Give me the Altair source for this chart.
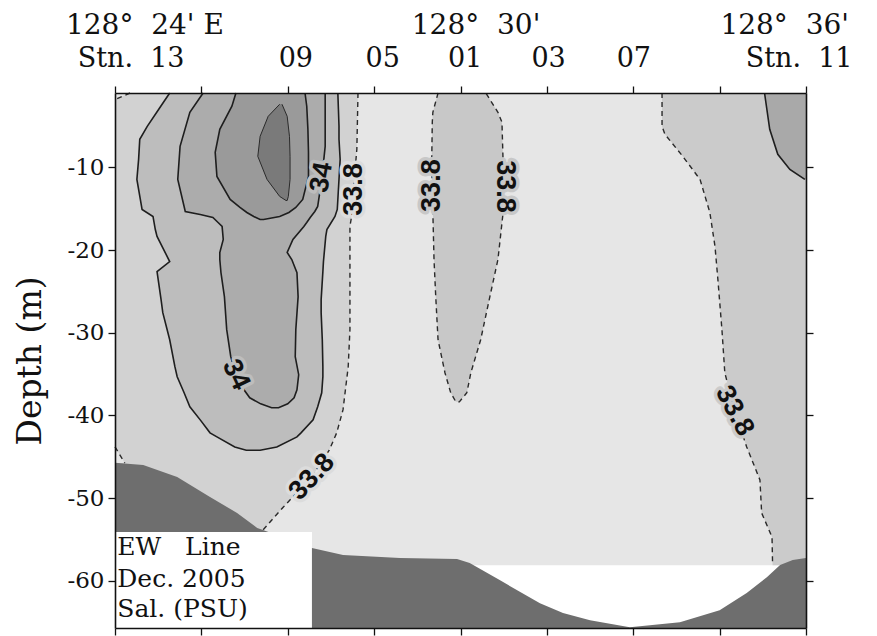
import altair as alt
import pandas as pd

# Section extent: longitude in minutes east of 128°, depth in metres
X_MIN, X_MAX = 24.0, 36.0
Y_MIN, Y_MAX = -65.7, -1.0
FIELD_BOTTOM = -58.1

lon_ticks = [24.0, 25.5, 27.0, 28.5, 30.0, 31.5, 33.0, 34.5, 36.0]
depth_ticks = [-10, -20, -30, -40, -50, -60]

NB = "\u00a0"
lon_labels = [f"128°{NB}{NB}24'{NB}E", f"128°{NB}{NB}30'", f"128°{NB}{NB}36'"]
lon_label_x = [24.52, 30.27, 35.63]
stn_labels = [f"Stn.{NB}{NB}13", "09", "05", "01", "03", "07", f"Stn.{NB}{NB}11"]
stn_x = [24.28, 27.14, 28.65, 30.08, 31.53, 33.01, 35.88]

# Salinity regions: depth samples with west / east boundary (minutes E)
# > 33.8, western water mass (bounded by the west edge)
a_depth = [-1.0, -7.8, -9.4, -16.3, -17.1, -29.6, -34.1, -39.3, -42.1, -44.2, -47.4, -51.1, -53.85, -54.2]
a_east = [28.22, 28.20, 28.18, 28.10, 28.08, 28.08, 28.05, 27.96, 27.85, 27.72, 27.42, 26.92, 26.57, 26.52]

# small < 33.8 pockets against the west edge
nw_depth = [-1.0, -1.8]
nw_east = [24.26, 24.0]
sw_depth = [-43.8, -45.75]
sw_east = [24.0, 24.17]

# outer solid contour
b_depth = [-1.0, -2.97, -5.03, -6.60, -9.03, -11.45, -13.87, -15.08, -15.93, -17.51, -18.35, -21.38,
           -22.60, -25.99, -27.57, -30.84, -34.10, -35.31, -37.25, -38.95, -40.53, -42.10, -42.59, -43.80, -44.2]
b_west = [24.95, 24.76, 24.56, 24.43, 24.41, 24.38, 24.44, 24.47, 24.66, 24.70, 24.73, 24.95,
          24.73, 24.80, 24.83, 24.95, 25.04, 25.08, 25.20, 25.30, 25.48, 25.65, 25.77, 26.08, 26.28]
b_east = [27.87, 27.88, 27.89, 27.89, 27.91, 27.89, 27.87, 27.86, 27.82, 27.68, 27.66, 27.62,
          27.61, 27.58, 27.58, 27.60, 27.61, 27.61, 27.59, 27.52, 27.44, 27.23, 27.16, 26.81, 26.52]

# 34 contour
c_depth = [-1.0, -3.33, -7.45, -11.45, -14.72, -15.33, -15.69, -16.05, -16.66, -17.14, -18.72, -20.29,
           -21.14, -22.72, -25.63, -29.62, -32.89, -35.07, -36.89, -37.86, -38.59, -39.07]
c_west = [25.53, 25.30, 25.13, 25.09, 25.20, 25.22, 25.48, 25.70, 25.79, 25.86, 25.88, 25.82,
          25.82, 25.84, 25.90, 25.94, 26.01, 26.10, 26.24, 26.34, 26.53, 26.72]
c_east = [27.65, 27.65, 27.65, 27.59, 27.52, 27.47, 27.43, 27.39, 27.33, 27.28, 27.09, 26.99,
          27.07, 27.16, 27.18, 27.14, 27.13, 27.19, 27.16, 27.11, 27.00, 26.84]

# inner core
d_depth = [-1.0, -2.60, -5.39, -8.18, -11.09, -13.87, -14.84, -15.45, -15.93, -16.30]
d_west = [26.10, 26.03, 25.82, 25.74, 25.77, 26.00, 26.17, 26.29, 26.41, 26.52]
d_east = [27.30, 27.33, 27.35, 27.36, 27.36, 27.26, 27.14, 27.02, 26.86, 26.58]

# saltiest cell
e_depth = [-2.36, -3.82, -6.24, -8.66, -11.45, -13.51, -14.0]
e_west = [26.86, 26.66, 26.52, 26.48, 26.64, 26.86, 26.97]
e_east = [26.90, 26.99, 27.03, 27.04, 27.04, 27.01, 26.99]

# > 33.8 tongue near Stn. 01
f_depth = [-1.0, -3.33, -4.54, -9.39, -15.45, -21.14, -25.63, -30.84, -34.83, -37.25, -38.35]
f_west = [29.61, 29.52, 29.51, 29.50, 29.52, 29.54, 29.57, 29.61, 29.73, 29.83, 29.92]
f_east = [30.44, 30.65, 30.72, 30.74, 30.74, 30.65, 30.51, 30.35, 30.18, 30.11, 29.98]

# > 33.8 eastern water mass (bounded by the east edge)
g_depth = [-1.0, -5.03, -6.00, -8.66, -11.45, -15.45, -19.57, -23.57, -29.62, -34.83, -39.44,
           -43.80, -47.79, -51.79, -54.70, -58.1]
g_west = [33.50, 33.50, 33.55, 33.86, 34.16, 34.33, 34.42, 34.47, 34.54, 34.59, 34.76,
          34.97, 35.20, 35.23, 35.41, 35.42]

# solid contour in the north-east corner
h_depth = [-1.0, -5.39, -8.42, -10.24, -11.45]
h_west = [35.28, 35.37, 35.51, 35.72, 35.98]

# Sea bed
bed_x = [24.0, 24.49, 25.08, 25.65, 26.12, 26.47, 26.57, 27.42, 27.96, 28.95, 29.94, 30.16,
         30.68, 31.38, 31.78, 32.25, 32.94, 33.81, 34.50, 34.97, 35.32, 35.55, 35.77, 36.0]
bed_depth = [-45.73, -45.98, -47.43, -49.85, -51.79, -53.61, -53.85, -56.03, -56.88, -57.24, -57.37, -57.85,
             -59.91, -62.70, -63.90, -64.75, -65.60, -64.99, -63.54, -61.48, -59.55, -58.09, -57.49, -57.24]

# Contour labels
lab_text = ["33.8", "34", "34", "33.8", "33.8", "33.8", "33.8"]
lab_x = [28.15, 27.59, 26.10, 27.42, 29.50, 30.77, 34.76]
lab_y = [-12.66, -11.2, -35.07, -47.43, -12.2, -12.3, -39.44]
lab_angle = [270, 280, 65, 313, 270, 90, 62]

info_lines = [f"EW{NB}{NB}{NB}Line", "Dec. 2005", "Sal. (PSU)"]
info_y = [-56.88, -60.76, -64.4]
info_x = 24.04
BOX_EAST, BOX_TOP = 27.42, -54.09

# Grey shades
C_BASE = "#e6e6e6"
C_A = "#d2d2d2"
C_B = "#bdbdbd"
C_C = "#acacac"
C_D = "#9a9a9a"
C_E = "#7a7a7a"
C_F = "#c8c8c8"
C_G = "#cbcbcb"
C_H = "#a9a9a9"
C_BED = "#6e6e6e"
lab_halo = ["#dcdcdc", C_B, C_B, "#dcdcdc", C_F, C_F, C_G]

xs = alt.Scale(domain=[X_MIN, X_MAX], nice=False, zero=False)
ys = alt.Scale(domain=[Y_MIN, Y_MAX], nice=False, zero=False)

INK = "#111111"
tick_style = dict(tickSize=7, tickColor=INK, tickWidth=1.3, domain=True, domainColor=INK,
                  domainWidth=1.6, grid=False, zindex=1)
ax_bottom = alt.Axis(orient="bottom", values=lon_ticks, labels=False, title=None, **tick_style)
ax_top = alt.Axis(orient="top", values=lon_ticks, labels=False, title=None, **tick_style)
ax_left = alt.Axis(orient="left", values=depth_ticks, labelExpr="'-' + abs(datum.value)",
                   labelFont="DejaVu Serif", labelFontSize=23, labelColor=INK, labelPadding=4,
                   title="Depth (m)", titleFont="DejaVu Serif", titleFontSize=33,
                   titleFontWeight="normal", titleColor=INK, titleX=-75, titleY=267.5,
                   titleAngle=270, titleAlign="center", titleBaseline="alphabetic", **tick_style)
ax_right = alt.Axis(orient="right", values=depth_ticks, labels=False, title=None, **tick_style)


def band(depth, west, east, color):
    df = pd.DataFrame({"depth": depth, "west": west, "east": east})
    return alt.Chart(df).mark_area(orient="horizontal", color=color, interpolate="linear").encode(
        y=alt.Y("depth:Q", scale=ys, axis=None),
        x=alt.X("west:Q", scale=xs, axis=None, stack=None),
        x2="east:Q",
    )


def outline(depth, west, east):
    return list(zip(west, depth)) + list(zip(reversed(east), reversed(depth)))


def path_df(paths):
    rows = []
    for name, pts in paths.items():
        for k, (x, y) in enumerate(pts):
            rows.append({"line": name, "k": k, "x": x, "y": y})
    return pd.DataFrame(rows)


def lines(df, **mark):
    return alt.Chart(df).mark_line(**mark).encode(
        x=alt.X("x:Q", scale=xs, axis=None),
        y=alt.Y("y:Q", scale=ys, axis=None),
        detail="line:N",
        order="k:Q",
    )


frame = pd.DataFrame({"x0": [X_MIN], "x1": [X_MAX], "y0": [FIELD_BOTTOM], "y1": [Y_MAX]})
field = alt.Chart(frame).mark_rect(color=C_BASE).encode(
    x=alt.X("x0:Q", scale=xs, axis=ax_bottom), x2="x1:Q",
    y=alt.Y("y0:Q", scale=ys, axis=ax_left), y2="y1:Q",
)

box = pd.DataFrame({"x0": [X_MIN], "x1": [BOX_EAST], "y0": [Y_MIN], "y1": [BOX_TOP]})
axes_carrier = alt.Chart(box).mark_rect(color="white").encode(
    x=alt.X("x0:Q", scale=xs, axis=ax_top), x2="x1:Q",
    y=alt.Y("y0:Q", scale=ys, axis=ax_right), y2="y1:Q",
)

areas = [
    band(a_depth, [X_MIN] * len(a_depth), a_east, C_A),
    band(nw_depth, [X_MIN] * 2, nw_east, C_BASE),
    band(sw_depth, [X_MIN] * 2, sw_east, C_BASE),
    band(b_depth, b_west, b_east, C_B),
    band(c_depth, c_west, c_east, C_C),
    band(d_depth, d_west, d_east, C_D),
    band(e_depth, e_west, e_east, C_E),
    band(f_depth, f_west, f_east, C_F),
    band(g_depth, g_west, [X_MAX] * len(g_depth), C_G),
    band(h_depth, h_west, [X_MAX] * len(h_depth), C_H),
]

solid = path_df({
    "b": outline(b_depth, b_west, b_east),
    "c": outline(c_depth, c_west, c_east),
    "d": outline(d_depth, d_west, d_east),
    "h": list(zip(h_west, h_depth)),
})
core = path_df({"e": outline(e_depth, e_west, e_east)})
dashed = path_df({
    "a": list(zip(a_east, a_depth)),
    "nw": list(zip(nw_east, nw_depth)),
    "sw": list(zip(sw_east, sw_depth)),
    "f": outline(f_depth, f_west, f_east),
    "g": list(zip(g_west, g_depth)),
})

solid_lines = lines(solid, color="#1e1e1e", strokeWidth=1.6)
core_line = lines(core, color="#2a2a2a", strokeWidth=1.0)
dashed_lines = lines(dashed, color="#2a2a2a", strokeWidth=1.4, strokeDash=[5, 4])

bed = pd.DataFrame({"x": bed_x, "y": bed_depth, "floor": [Y_MIN] * len(bed_x)})
seabed = alt.Chart(bed).mark_area(color=C_BED).encode(
    x=alt.X("x:Q", scale=xs, axis=None),
    y=alt.Y("y:Q", scale=ys, axis=None, stack=None),
    y2="floor:Q",
)

# white info box over the sea bed, with its three lines of text
info_box = alt.Chart(box).mark_rect(color="white").encode(
    x=alt.X("x0:Q", scale=xs, axis=None), x2="x1:Q",
    y=alt.Y("y0:Q", scale=ys, axis=None), y2="y1:Q",
)
info = pd.DataFrame({"text": info_lines, "x": [info_x] * 3, "y": info_y})
info_text = alt.Chart(info).mark_text(
    align="left", baseline="alphabetic", font="DejaVu Serif", fontSize=25, color=INK
).encode(
    x=alt.X("x:Q", scale=xs, axis=None),
    y=alt.Y("y:Q", scale=ys, axis=None),
    text="text:N",
)

labels = pd.DataFrame({"text": lab_text, "x": lab_x, "y": lab_y, "angle": lab_angle, "halo": lab_halo})
lab_enc = dict(
    x=alt.X("x:Q", scale=xs, axis=None),
    y=alt.Y("y:Q", scale=ys, axis=None),
    text="text:N",
    angle=alt.Angle("angle:Q", scale=None),
)
label_font = dict(font="Liberation Sans", fontSize=27, fontWeight="bold", align="center", baseline="middle")
label_halo = alt.Chart(labels).mark_text(strokeWidth=7, strokeJoin="round", **label_font).encode(
    stroke=alt.Stroke("halo:N", scale=None),
    color=alt.Color("halo:N", scale=None),
    **lab_enc,
)
label_text = alt.Chart(labels).mark_text(color=INK, **label_font).encode(**lab_enc)

head1 = alt.Chart(pd.DataFrame({"text": lon_labels, "x": lon_label_x})).mark_text(
    font="DejaVu Serif", fontSize=28, baseline="alphabetic", align="center", color=INK
).encode(x=alt.X("x:Q", scale=xs, axis=None), y=alt.value(-59), text="text:N")
head2 = alt.Chart(pd.DataFrame({"text": stn_labels, "x": stn_x})).mark_text(
    font="DejaVu Serif", fontSize=27, baseline="alphabetic", align="center", color=INK
).encode(x=alt.X("x:Q", scale=xs, axis=None), y=alt.value(-26), text="text:N")

chart = alt.layer(
    field, axes_carrier, *areas, solid_lines, core_line, dashed_lines, seabed,
    info_box, info_text, label_halo, label_text, head1, head2,
).resolve_axis(x="independent", y="independent").properties(
    width=691, height=535,
    padding={"left": 115, "top": 93, "right": 71, "bottom": 8},
    autosize=alt.AutoSizeParams(type="none"),
    background="white",
).configure_view(stroke=None)

chart.save("out.html", embed_options={"renderer": "svg", "actions": False})
